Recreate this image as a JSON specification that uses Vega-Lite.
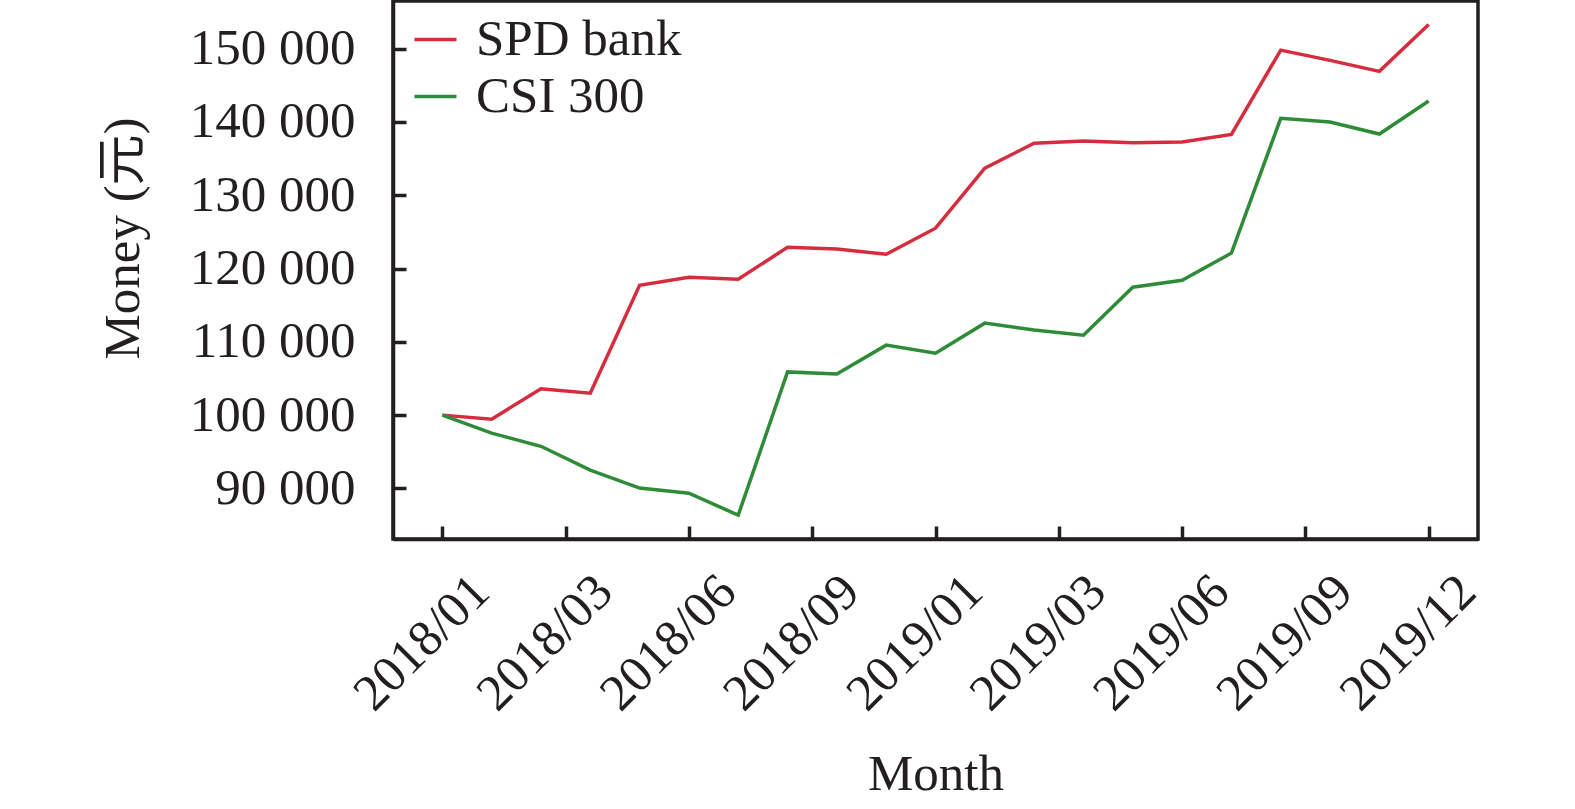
{
  "$schema": "https://vega.github.io/schema/vega-lite/v6.json",
  "width": 1085,
  "height": 538,
  "autosize": {"type": "none"},
  "padding": {"left": 393, "top": 1, "right": 97, "bottom": 270},
  "config": {
    "font": "Liberation Serif",
    "view": {"stroke": "#231f20", "strokeWidth": 3.5},
    "axis": {
      "domainColor": "#231f20",
      "domainWidth": 3.5,
      "tickColor": "#231f20",
      "tickWidth": 3.5,
      "grid": false,
      "labelFont": "Liberation Serif",
      "labelFontSize": 51,
      "labelColor": "#231f20",
      "titleFont": "Liberation Serif, Noto Sans CJK SC",
      "titleFontSize": 51,
      "titleFontWeight": "normal",
      "titleColor": "#231f20"
    },
    "legend": {
      "labelFont": "Liberation Serif",
      "labelFontSize": 51,
      "labelColor": "#231f20",
      "labelLimit": 500
    }
  },
  "data": {
    "values": [
      {"t": 0, "series": "SPD bank", "value": 100000},
      {"t": 1, "series": "SPD bank", "value": 99450},
      {"t": 2, "series": "SPD bank", "value": 103600},
      {"t": 3, "series": "SPD bank", "value": 103000},
      {"t": 4, "series": "SPD bank", "value": 117700},
      {"t": 5, "series": "SPD bank", "value": 118800},
      {"t": 6, "series": "SPD bank", "value": 118550},
      {"t": 7, "series": "SPD bank", "value": 122900},
      {"t": 8, "series": "SPD bank", "value": 122650},
      {"t": 9, "series": "SPD bank", "value": 121950},
      {"t": 10, "series": "SPD bank", "value": 125500},
      {"t": 11, "series": "SPD bank", "value": 133700},
      {"t": 12, "series": "SPD bank", "value": 137100},
      {"t": 13, "series": "SPD bank", "value": 137400},
      {"t": 14, "series": "SPD bank", "value": 137150},
      {"t": 15, "series": "SPD bank", "value": 137250},
      {"t": 16, "series": "SPD bank", "value": 138300},
      {"t": 17, "series": "SPD bank", "value": 149800},
      {"t": 18, "series": "SPD bank", "value": 148400},
      {"t": 19, "series": "SPD bank", "value": 146900},
      {"t": 20, "series": "SPD bank", "value": 153300},
      {"t": 0, "series": "CSI 300", "value": 100000},
      {"t": 1, "series": "CSI 300", "value": 97550},
      {"t": 2, "series": "CSI 300", "value": 95750},
      {"t": 3, "series": "CSI 300", "value": 92500},
      {"t": 4, "series": "CSI 300", "value": 90050},
      {"t": 5, "series": "CSI 300", "value": 89350},
      {"t": 6, "series": "CSI 300", "value": 86350},
      {"t": 7, "series": "CSI 300", "value": 105900},
      {"t": 8, "series": "CSI 300", "value": 105600},
      {"t": 9, "series": "CSI 300", "value": 109550},
      {"t": 10, "series": "CSI 300", "value": 108450},
      {"t": 11, "series": "CSI 300", "value": 112550},
      {"t": 12, "series": "CSI 300", "value": 111600},
      {"t": 13, "series": "CSI 300", "value": 110900},
      {"t": 14, "series": "CSI 300", "value": 117450},
      {"t": 15, "series": "CSI 300", "value": 118400},
      {"t": 16, "series": "CSI 300", "value": 122100},
      {"t": 17, "series": "CSI 300", "value": 140500},
      {"t": 18, "series": "CSI 300", "value": 140000},
      {"t": 19, "series": "CSI 300", "value": 138350},
      {"t": 20, "series": "CSI 300", "value": 142850}
    ]
  },
  "mark": {"type": "line", "strokeWidth": 3.5},
  "encoding": {
    "x": {
      "field": "t",
      "type": "quantitative",
      "title": "Month",
      "scale": {"domain": [-1, 21], "nice": false, "zero": false},
      "axis": {
        "values": [0, 2.5, 5, 7.5, 10, 12.5, 15, 17.5, 20],
        "labelExpr": "['2018/01','2018/03','2018/06','2018/09','2019/01','2019/03','2019/06','2019/09','2019/12'][round(datum.value / 2.5)]",
        "labelAngle": -45,
        "labelAlign": "right",
        "labelBaseline": "top",
        "labelOverlap": false,
        "labelOffset": 21,
        "tickSize": -13,
        "labelPadding": 40,
        "titlePadding": 30
      }
    },
    "y": {
      "field": "value",
      "type": "quantitative",
      "title": "Money (元)",
      "scale": {"domain": [83100, 156500], "nice": false, "zero": false},
      "axis": {
        "values": [90000, 100000, 110000, 120000, 130000, 140000, 150000],
        "labelExpr": "replace(format(datum.value, ','), ',', ' ')",
        "tickSize": -13,
        "labelPadding": 51,
        "titlePadding": 44,
        "titleY": 237
      }
    },
    "color": {
      "field": "series",
      "type": "nominal",
      "scale": {"domain": ["SPD bank", "CSI 300"], "range": ["#d62d3e", "#2e8b38"]},
      "legend": {
        "title": null,
        "orient": "none",
        "legendX": 17,
        "legendY": 13,
        "symbolType": "stroke",
        "symbolSize": 1764,
        "symbolStrokeWidth": 3.5,
        "labelOffset": 15,
        "rowPadding": 5
      }
    }
  }
}
